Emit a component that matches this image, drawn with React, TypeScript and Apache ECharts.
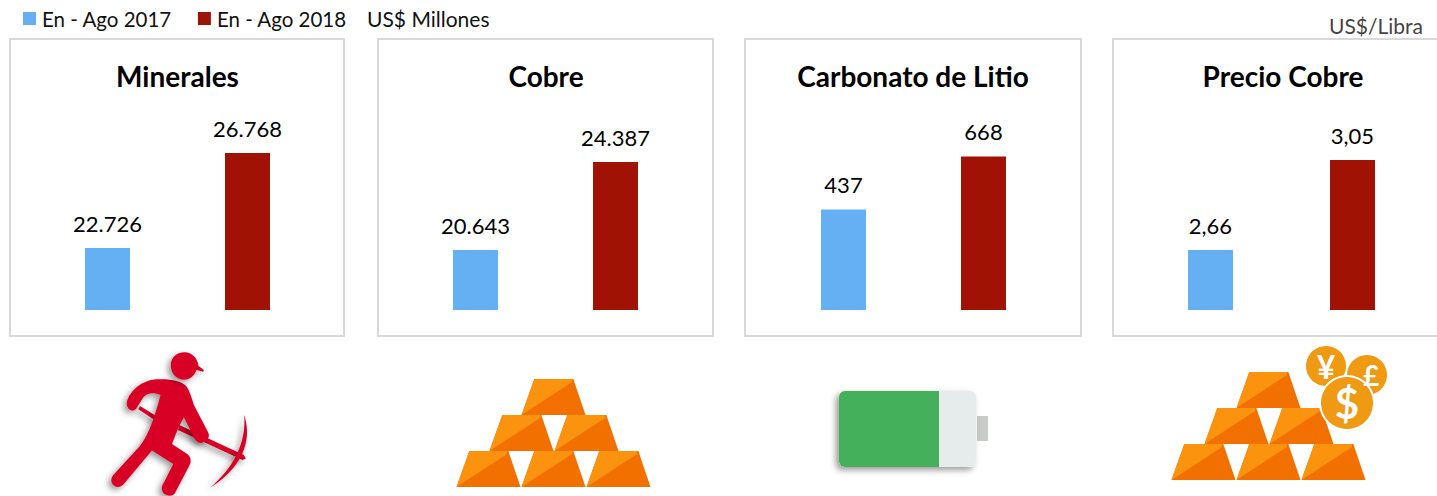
import React, { useEffect, useRef } from "react";
import * as echarts from "echarts";

const categories = ["En - Ago 2017", "En - Ago 2018"];
const panelTitles = ["Minerales", "Cobre", "Carbonato de Litio", "Precio Cobre"];
const minerales = [22726, 26768];
const cobre = [20643, 24387];
const litio = [437, 668];
const precioCobre = [2.66, 3.05];
const panelValues = [minerales, cobre, litio, precioCobre];
const panelLabels = [
  ["22.726", "26.768"],
  ["20.643", "24.387"],
  ["437", "668"],
  ["2,66", "3,05"],
];
const axisRanges = [
  [20088, 28598],
  [18090, 26600],
  [0, 870],
  [2.4, 3.2667],
];
const panelBoxes = [
  [10, 344],
  [378, 713],
  [745, 1081],
  [1113, 1450],
];
const titleCenters = [177.5, 546, 913, 1283];
const grids = [
  [37.5, 280],
  [405.5, 280],
  [773.5, 280],
  [1139.5, 284],
];
const BLUE = "#64B0F2";
const RED = "#A01304";
const FONT = "Lato, 'Noto Sans', sans-serif";

const MINER_BODY =
  "M110 190 C118 150 160 120 200 118 C240 116 275 122 290 140 C300 155 305 175 312 195 L355 278 C360 290 355 300 345 305 C335 312 322 310 315 298 L282 232 L266 262 L246 312 L292 342 C304 352 305 365 298 378 L256 458 C248 472 226 470 218 456 C213 446 216 436 222 428 L250 372 L186 332 L102 432 C92 445 72 445 65 428 C62 418 66 410 72 403 L150 318 C175 285 190 245 212 165 C190 155 170 160 160 172 L140 205 C130 218 112 212 110 190 Z";
const MINER_HEAD =
  "M243 68 C248 48 265 36 285 37 C305 38 322 52 326 78 L342 90 L340 95 L320 90 C312 110 298 120 280 119 C258 118 240 98 243 68 Z";
const MINER_HANDLE =
  "M150 198 L205 232 L200 244 L145 208 Z M268 255 L462 345 L468 356 L458 360 L264 270 Z";
const MINER_PICK = "M463 225 C482 280 478 370 360 444 C430 385 470 310 463 225 Z";

echarts.graphic.registerShape("minerBody", echarts.graphic.extendPath(MINER_BODY, {}));
echarts.graphic.registerShape("minerHead", echarts.graphic.extendPath(MINER_HEAD, {}));
echarts.graphic.registerShape("minerHandle", echarts.graphic.extendPath(MINER_HANDLE, {}));
echarts.graphic.registerShape("minerPick", echarts.graphic.extendPath(MINER_PICK, {}));

const goldBar = (x: number, y: number, w: number, h: number) => [
  {
    type: "polygon",
    shape: { points: [[x, y], [x + w, y], [x + w * 0.81, y - h], [x + w * 0.2, y - h]] },
    style: { fill: "#F27000" },
  },
  {
    type: "polygon",
    shape: { points: [[x, y], [x + w * 0.79, y - h * 0.92], [x + w * 0.79, y - h], [x + w * 0.2, y - h]] },
    style: { fill: "#FB930F" },
  },
];

const goldStack = (x0: number, y0: number) => {
  const W = 64;
  const H = 36;
  const spots = [
    [32.5, 0], [0.5, 1], [65.5, 1], [-32.5, 2], [32.5, 2], [97.5, 2],
  ];
  return spots.flatMap(([dx, row]) => goldBar(x0 + dx, y0 + row * H, W, H));
};

function buildOption() {
  const grid = grids.map(([left, width]) => ({
    left,
    width,
    top: 110,
    height: 200,
    containLabel: false,
  }));
  const xAxis = grids.map((_, i) => ({
    type: "category",
    gridIndex: i,
    data: categories,
    show: false,
  }));
  const yAxis = axisRanges.map(([min, max], i) => ({
    type: "value",
    gridIndex: i,
    min,
    max,
    show: false,
  }));
  const series: any[] = [];
  panelValues.forEach((vals, i) => {
    categories.forEach((name, c) => {
      series.push({
        type: "bar",
        name,
        xAxisIndex: i,
        yAxisIndex: i,
        barWidth: 45,
        barGap: "-100%",
        itemStyle: { color: c === 0 ? BLUE : RED },
        label: {
          show: true,
          position: "top",
          distance: 14,
          color: "#000",
          fontFamily: FONT,
          fontSize: 22,
          formatter: () => panelLabels[i][c],
        },
        data: vals.map((v, k) => (k === c ? v : null)),
      });
    });
  });
  const title = panelTitles.map((text, i) => ({
    text,
    left: titleCenters[i],
    top: 62,
    padding: 0,
    textAlign: "center",
    textStyle: { fontFamily: FONT, fontWeight: "bold", fontSize: 28, color: "#000" },
  }));
  const boxes = panelBoxes.map(([a, b]) => ({
    type: "rect",
    shape: { x: a, y: 39, width: b - a, height: 297 },
    style: { fill: "#fff", stroke: "#D9D9D9", lineWidth: 2 },
    z: -1,
  }));
  const shadow = { shadowBlur: 6, shadowColor: "rgba(0,0,0,0.4)", shadowOffsetX: -3, shadowOffsetY: 3 };
  const red = "#D90027";
  const miner = ["minerHandle", "minerPick", "minerBody", "minerHead"].map((type) => ({
    type,
    x: 90,
    y: 340,
    scaleX: 1 / 3,
    scaleY: 1 / 3,
    style: { fill: red, ...shadow },
  }));
  const coin = "#EF9A12";
  const battery = [
    { type: "rect", shape: { x: 977, y: 416, width: 11, height: 25 }, style: { fill: "#C8CAC8" } },
    {
      type: "rect",
      shape: { x: 839, y: 391, width: 137, height: 76, r: 6 },
      style: { fill: "#E6EBEB", ...shadow },
    },
    {
      type: "rect",
      shape: { x: 839, y: 391, width: 100, height: 76, r: [6, 0, 0, 6] },
      style: { fill: "#45B05C" },
    },
  ];
  const coins = [
    { type: "circle", shape: { cx: 1326, cy: 366, r: 20 }, style: { fill: coin } },
    { type: "circle", shape: { cx: 1367, cy: 375, r: 20 }, style: { fill: coin } },
    { type: "circle", shape: { cx: 1347, cy: 403, r: 28 }, style: { fill: "#fff" } },
    { type: "circle", shape: { cx: 1347, cy: 403, r: 26 }, style: { fill: coin } },
    {
      type: "text",
      x: 1326,
      y: 366,
      style: { text: "¥", fill: "#fff", font: `bold 32px ${FONT}`, align: "center", verticalAlign: "middle" },
    },
    {
      type: "text",
      x: 1371,
      y: 375,
      style: { text: "£", fill: "#fff", font: `bold 28px ${FONT}`, align: "center", verticalAlign: "middle" },
    },
    {
      type: "text",
      x: 1347,
      y: 403,
      style: { text: "$", fill: "#fff", font: `bold 42px ${FONT}`, align: "center", verticalAlign: "middle" },
    },
  ];
  const texts = [
    {
      type: "text",
      x: 367,
      y: 18,
      style: { text: "US$ Millones", fill: "#111", font: `21px ${FONT}`, verticalAlign: "middle" },
    },
    {
      type: "text",
      x: 1329,
      y: 25,
      style: { text: "US$/Libra", fill: "#444", font: `21px ${FONT}`, verticalAlign: "middle" },
    },
  ];
  return {
    animation: false,
    backgroundColor: "#fff",
    title,
    grid,
    xAxis,
    yAxis,
    series,
    legend: {
      data: categories,
      left: 23,
      top: 8,
      padding: 0,
      itemWidth: 13,
      itemHeight: 13,
      itemGap: 26,
      icon: "rect",
      selectedMode: false,
      textStyle: { fontFamily: FONT, fontSize: 20.5, color: "#111", padding: [0, 0, 0, 1] },
    },
    graphic: [
      ...boxes,
      ...texts,
      ...miner,
      ...goldStack(489, 415),
      ...battery,
      ...goldStack(1204, 408),
      ...coins,
    ],
  };
}

export default function App() {
  const ref = useRef<HTMLDivElement>(null);
  useEffect(() => {
    const chart = echarts.init(ref.current!, undefined, { renderer: "svg" });
    chart.setOption(buildOption() as any);
    return () => chart.dispose();
  }, []);
  return <div ref={ref} style={{ position: "fixed", left: 0, top: 0, width: 1437, height: 496 }} />;
}
